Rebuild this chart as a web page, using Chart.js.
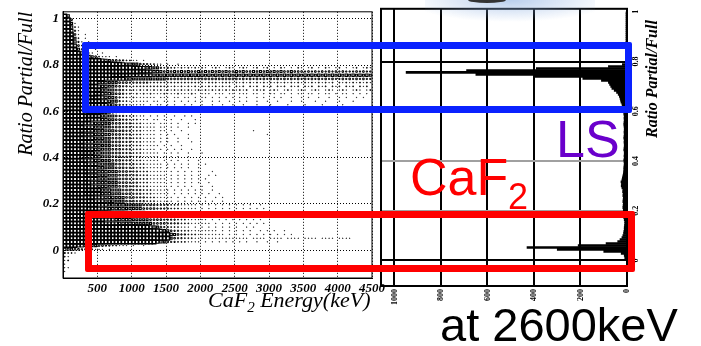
<!DOCTYPE html>
<html>
<head>
<meta charset="utf-8">
<script src="https://cdn.jsdelivr.net/npm/chart.js@4.4.1/dist/chart.umd.min.js"></script>
<style>
  body{margin:0;width:701px;height:346px;overflow:hidden;background:#fff;position:relative;font-family:"Liberation Sans",Arial,sans-serif}
  .wrap{position:absolute;top:0;height:346px}
  .ov{position:absolute;white-space:nowrap;line-height:1}
  .box{position:absolute;box-sizing:border-box;border-radius:2px}
</style>
</head>
<body>

<div class="wrap" style="left:0;width:400px"><canvas id="scatterChart"></canvas></div>
<div class="wrap" style="left:374px;width:327px"><canvas id="projChart"></canvas></div>

<!-- slide overlays -->
<div class="ov" style="left:425px;top:0;width:170px;height:22px;background:radial-gradient(ellipse 60% 100% at 50% 0%,rgba(140,175,225,.6),rgba(255,255,255,0) 100%)"></div>
<div class="ov" style="left:468px;top:-3px;width:38px;height:6px;border-radius:50%;background:#333"></div>
<div class="box" style="left:82px;top:42px;width:550px;height:71px;border:7px solid #0a22ff"></div>
<div class="box" style="left:85px;top:211px;width:550px;height:61px;border:7px solid #ff0000"></div>
<div class="ov" style="left:556px;top:113px;font-size:52px;color:#6a00cc">LS</div>
<div class="ov" style="left:410px;top:151px;font-size:52px;color:#ff0000">CaF</div>
<div class="ov" style="left:508px;top:179px;font-size:36px;color:#ff0000">2</div>
<div class="ov" style="left:440px;top:301px;font-size:47px;color:#000">at 2600keV</div>
<div class="ov" style="left:208px;top:287px;font:italic 22px 'Liberation Serif',serif;color:#000">CaF<span style="font-size:15px;position:relative;top:5px">2</span> Energy(keV)</div>
<div class="ov" style="left:652px;top:79px;transform:translate(-50%,-50%) rotate(-90deg);font:italic bold 16px 'Liberation Serif',serif;color:#000">Ratio Partial/Full</div>

<script>
// 2D histogram (box plot): x bins of 50 keV from 0, y bins of 0.016 from 1.02 down
// one string per y row (top first), one digit per x bin = box size level 0..9
const xBinWidth = 50;
const yBinTop = 1.02;
const yBinWidth = 0.016;
const boxRows = [
  "96",
  "994",
  "9951",
  "99621",
  "997310",
  "9984101",
  "99852010",
  "998631010",
  "9997420010",
  "99985310010",
  "999986421001",
  "9999998754211101",
  "999999999987654433221101",
  "9999999999999998876655433221101001",
  "99999999999999999999" + "88776655" + "3232212121" + "2121012101" + "2101210120" + "1201021010" + "2101201021" + "0120101201" + "21",
  "9999999999999999999999" + "887766" + "5454545454" + "4545454545" + "4454544545" + "4545454454" + "4434343434" + "3434333434" + "33",
  "99999999999999" + "8888777777776666" + "6666666666" + "6565656565" + "6565656565" + "6565656565" + "6565656565" + "6565656565",
  "999999999999" + "777777665555555555" + "4444444444" + "4444444444" + "4343434343" + "4343434343" + "4343434343" + "3434343433",
  "9999999999" + "66655544433333322222" + "2222222222" + "2122212221" + "2121212121" + "2121212121" + "2121212120" + "2121212121",
  "9999999999" + "7665544332" + "2222222222" + "2121212121" + "2121212120" + "2120212021" + "2021202120" + "2120212021" + "2021202120",
  "999999999" + "776655443" + "2221212121" + "2121212121" + "1212121212" + "1212120121" + "2012101210" + "1210121012" + "101210121012",
  "999999999" + "887665443" + "2212121211" + "1211121112" + "1011101110" + "1101110110" + "1011011010" + "1101101011" + "010110101010",
  "99999999" + "88776554" + "3221211111" + "1011101101" + "1010110101" + "0101010100" + "1010010100" + "1001010010" + "0100101001" + "0100",
  "99999999" + "88877655" + "3221111110" + "1101101010" + "1010100101" + "0010010100" + "1001001000" + "1001000100" + "1000100010",
  "99999999" + "8887766" + "4322111110" + "1011010100" + "1010010010" + "0100100100" + "0100010000" + "1000010000" + "1000001",
  "99999999" + "8877664" + "3221110101" + "1010100101" + "0010010010" + "0001000100" + "0000100000" + "0000000100",
  "9999999" + "88776654" + "3221110101" + "1010010100" + "1001000100" + "0000000000" + "0000000000" + "00001",
  "999999" + "888776655" + "43322211101010100100101",
  "999999" + "88777665" + "5443322211101101010010001",
  "999998" + "77766655" + "4443332221111011010100101",
  "999998" + "77766655" + "44433322211110110101001",
  "999998" + "7776665" + "5544433222111101101001000000000000000000001",
  "99999" + "877766655" + "4443332221111010101000100000000000000000000001",
  "99999" + "877766655" + "44433322211110101001001",
  "99999" + "877766655" + "444333222111101010010001",
  "99999" + "877766555" + "44433322211111010100100",
  "99999" + "87776655" + "5444333222111101010101001",
  "99999" + "877766555" + "444333222111110101010010001",
  "99999" + "877766555" + "4443332221111101010100100",
  "99999" + "877766555" + "44433322211111010101001001",
  "999999" + "87776655" + "5444333222111110101010100101",
  "999999" + "87776655" + "54443332221111101010101001",
  "999999" + "87776665" + "554443332221111101010101010001",
  "999999" + "87776665" + "5544433322211111010101010100101",
  "999999" + "87776665" + "55444333222111110101010101010",
  "999999" + "887766655" + "5444333222111110101010101001",
  "999999" + "887766655" + "54443332221111101010101001001",
  "999999" + "887776665" + "554443332221111101010101010010",
  "999999" + "887776665" + "5544433322211111010101010101001",
  "9999999" + "88777666" + "55544433322211111010101010100101",
  "9999999" + "88777666" + "55544433322211111010101010101001",
  "9999999" + "888777666" + "6655555444433332221111101010101010101010010",
  "9999999" + "888777666" + "6655555444433332221111101010101010101010101",
  "9999999" + "888777766" + "6665555544443333222111110101010101010101001",
  "99999999" + "88877776" + "6665555544443333222111110101010101010100101",
  "99999999" + "888777766" + "666555554444333322211111101010101010101010",
  "99999999" + "8888777766" + "66655555444433332221111110101010101010101",
  "9999999999999999999999999" + "765" + "4332221110101010101010100101",
  "9999999999999999999999999999" + "765" + "4332221111111101010101010010101001",
  "9999999999999999999999999999999" + "6" + "54332221111111101010101010101010101",
  "9999999999999999999999999999999" + "5" + "43322211111111111111110111101111011110111101111011110",
  "999999999999999999999999999" + "7654" + "33222111101010101010101001001001",
  "99887766" + "5544332211101001",
  "65544332211101",
  "3221",
  "21",
  "12",
  "1",
  "11",
  "1"
];
const energyTicks = [500, 1000, 1500, 2000, 2500, 3000, 3500, 4000, 4500];
const ratioTicks = [0, 0.2, 0.4, 0.6, 0.8, 1];

// projection on the ratio axis (rotated histogram), bins of 0.008 starting at 0
const projBinWidth = 0.008;
const projCounts = [
  8, 10, 12, 25, 100, 300, 430, 210, 90, 40,
  30, 22, 18, 15, 14, 12, 12, 11, 10, 10,
  12, 14, 18, 16, 15, 16, 18, 17, 16, 18,
  17, 16, 18, 17, 19, 18, 22, 25, 24, 26,
  22, 20, 18, 16, 15, 14, 14, 13, 12, 13,
  14, 12, 13, 12, 12, 14, 13, 12, 12, 13,
  12, 14, 13, 12, 13, 12, 12, 13, 14, 13,
  12, 13, 12, 14, 13, 15, 18, 20, 22, 26,
  28, 30, 33, 38, 45, 55, 65, 70, 75, 80,
  110, 190, 400, 650, 950, 690, 390, 80, 20, 8,
  4, 3, 2, 2, 2, 2, 2, 2, 2, 2,
  2, 2, 2, 2, 2, 2, 2, 2, 2, 2,
  2, 2, 2, 2, 2
];
const countTicks = [0, 200, 400, 600, 800, 1000];

const boxPoints = [];
boxRows.forEach((row, i) => {
  const ratio = yBinTop - yBinWidth * (i + 0.5);
  [...row].forEach((ch, k) => {
    const v = Number(ch);
    if (v > 0) boxPoints.push({x: xBinWidth * (k + 0.5), y: ratio, v: v});
  });
});

const projData = projCounts.map((c, i) => ({x: c, y: projBinWidth * (i + 0.5)}));

const frame = {
  id: 'frame',
  afterDatasetsDraw(chart, args, opts){
    const a = chart.chartArea, ctx = chart.ctx;
    ctx.save();
    ctx.strokeStyle = '#000';
    ctx.lineWidth = opts.width || 1;
    ctx.strokeRect(a.left, a.top, a.right - a.left, a.bottom - a.top);
    ctx.restore();
  }
};

const serifBI = {family: "'Liberation Serif', serif", size: 13, style: 'italic', weight: 'bold'};

new Chart(document.getElementById('scatterChart'), {
  type: 'scatter',
  data: {datasets: [{
    data: boxPoints,
    pointStyle: 'rect',
    radius: c => c.raw ? c.raw.v / 9 * 2.5 : 0,
    backgroundColor: 'rgba(0,0,0,0)',
    borderColor: '#000',
    borderWidth: c => !c.raw ? 1 : c.raw.v >= 8 ? 1.5 : c.raw.v >= 5 ? 1.1 : 1
  }]},
  options: {
    animation: false, responsive: true, maintainAspectRatio: false, events: [],
    layout: {padding: {top: 7, right: 28, left: 0, bottom: 0}},
    plugins: {legend: {display: false}, tooltip: {enabled: false}, frame: {width: 1}},
    scales: {
      x: {
        type: 'linear', min: 0, max: 4500,
        afterBuildTicks: s => { s.ticks = energyTicks.map(v => ({value: v})); },
        afterFit: s => { s.height = 68; },
        ticks: {font: serifBI, color: '#000', padding: 3, maxRotation: 0, autoSkip: false, callback: v => String(v)},
        grid: {color: '#000', lineWidth: 1, drawTicks: false},
        border: {color: '#000', width: 1, dash: [1, 2]}
      },
      y: {
        type: 'linear', min: -0.12, max: 1.03,
        afterBuildTicks: s => { s.ticks = ratioTicks.map(v => ({value: v})); },
        afterFit: s => { s.width = 63; },
        ticks: {font: serifBI, color: '#000', padding: 4, autoSkip: false, callback: v => String(v)},
        grid: {color: '#000', lineWidth: 1, drawTicks: false},
        border: {color: '#000', width: 1, dash: [1, 2]},
        title: {display: true, text: 'Ratio Partial/Full', align: 'end', color: '#000',
          font: {family: "'Liberation Serif', serif", size: 20, style: 'italic'}, padding: {top: 15, bottom: 0}}
      }
    }
  },
  plugins: [frame]
});

const tinyFont = {family: "'Liberation Serif', serif", size: 8, weight: 'bold'};

new Chart(document.getElementById('projChart'), {
  type: 'bar',
  data: {datasets: [{data: projData, backgroundColor: '#000', borderWidth: 0, barThickness: 2}]},
  options: {
    indexAxis: 'y', animation: false, responsive: true, maintainAspectRatio: false, events: [],
    layout: {padding: {top: 5, left: 7, right: 0, bottom: 0}},
    plugins: {legend: {display: false}, tooltip: {enabled: false}, frame: {width: 2}},
    scales: {
      x: {
        type: 'linear', reverse: true, min: 0, max: 1058,
        afterBuildTicks: s => { s.ticks = countTicks.map(v => ({value: v})); },
        afterFit: s => { s.height = 60; },
        ticks: {font: tinyFont, color: '#000', minRotation: 90, maxRotation: 90, padding: 3, autoSkip: false, callback: v => String(v)},
        grid: {color: '#000', lineWidth: 2, drawTicks: false},
        border: {color: '#000', width: 2}
      },
      y: {
        type: 'linear', position: 'right', min: -0.103, max: 1.012, offset: false,
        afterBuildTicks: s => { s.ticks = ratioTicks.map(v => ({value: v})); },
        afterFit: s => { s.width = 74; },
        ticks: {font: tinyFont, color: '#000', minRotation: 90, maxRotation: 90, padding: 4, crossAlign: 'center', autoSkip: false, callback: v => String(v)},
        grid: {offset: false, lineWidth: 2, drawTicks: false,
          color: c => {
            const v = c.tick ? c.tick.value : null;
            if (v === 0 || v === 0.8) return '#000';
            if (v === 0.2 || v === 0.4) return '#a0a0a0';
            return 'rgba(0,0,0,0)';
          }},
        border: {color: '#000', width: 2}
      }
    }
  },
  plugins: [frame]
});
</script>
</body>
</html>
